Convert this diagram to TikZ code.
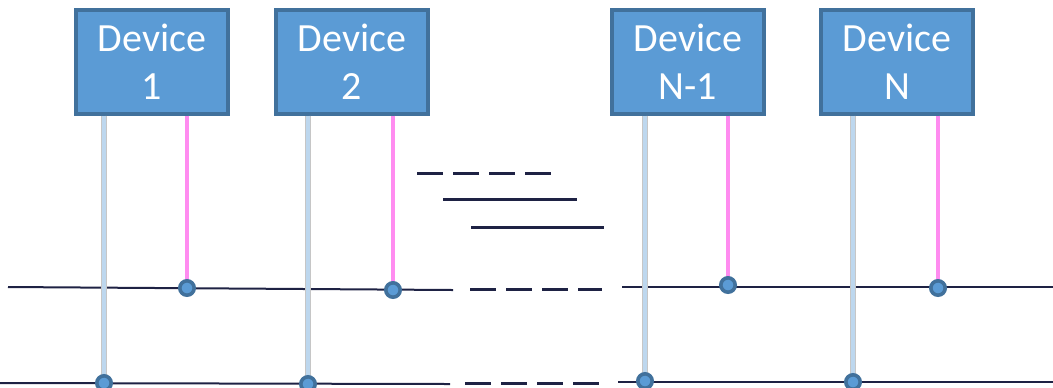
\documentclass[tikz,border=0pt]{standalone}
\usepackage{fontspec}
\setmainfont{Carlito}
\usepackage{tikz}

\definecolor{boxfill}{RGB}{91,155,213}
\definecolor{boxedge}{RGB}{65,113,156}
\definecolor{busline}{RGB}{30,34,68}
\definecolor{powline}{RGB}{189,215,238}
\definecolor{sigline}{RGB}{255,140,240}

\tikzset{
    device/.style={draw=boxedge, line width=1.6pt, fill=boxfill, text=white,
                   minimum width=76pt, minimum height=52pt, align=center,
                   font=\fontsize{20}{24}\selectfont, inner sep=0pt},
    bus/.style={draw=busline, line width=1pt},
    busdash/.style={draw=busline, line width=1.5pt, dash pattern=on 13pt off 5pt},
    pow/.style={draw=gray!45, line width=0.3pt, double=powline, double distance=2.2pt},
    sig/.style={draw=sigline, line width=2pt},
    tap/.style={fill=boxfill, draw=boxedge, line width=1.8pt}
}

\begin{document}
\begin{tikzpicture}[x=0.5pt, y=-0.5pt]
    \useasboundingbox (0,0) rectangle (1053,387);

    % Buses
    \coordinate (a1) at (8,287);   \coordinate (a2) at (453,290);
    \coordinate (a3) at (470,289); \coordinate (a4) at (602,289);
    \coordinate (a5) at (622,287); \coordinate (a6) at (1053,287);
    \coordinate (b1) at (0,383);   \coordinate (b2) at (450,384);
    \coordinate (b3) at (465,383); \coordinate (b4) at (600,383);
    \coordinate (b5) at (618,382); \coordinate (b6) at (1053,382);
    \draw[bus] (a1) -- (a2);
    \draw[busdash] (a3) -- (a4);
    \draw[bus] (a5) -- (a6);
    \draw[bus] (b1) -- (b2);
    \draw[busdash] (b3) -- (b4);
    \draw[bus] (b5) -- (b6);

    % Gap marks
    \draw[busdash] (417,173) -- (551,173);
    \draw[busdash, solid] (443,199) -- (577,199);
    \draw[busdash, solid] (471,227) -- (604,227);

    % Devices
    \node[device] (dev1) at (152,62) {Device\\1};
    \node[device] (dev2) at (352,62) {Device\\2};
    \node[device] (devm) at (688,62) {Device\\N-1};
    \node[device] (devn) at (897,62) {Device\\N};

    % Taps
    \coordinate (s1) at (187,288); \coordinate (p1) at (104,383);
    \coordinate (s2) at (393,290); \coordinate (p2) at (308,384);
    \coordinate (sm) at (728,285); \coordinate (pm) at (645,381);
    \coordinate (sn) at (938,288); \coordinate (pn) at (853,382);

    \foreach \d in {1,2,m,n} {
        \draw[pow] (dev\d.south -| p\d) -- (p\d);
        \draw[sig] (dev\d.south -| s\d) -- (s\d);
        \draw[tap] (s\d) circle (3.6pt);
        \draw[tap] (p\d) circle (3.6pt);
    }
\end{tikzpicture}
\end{document}
